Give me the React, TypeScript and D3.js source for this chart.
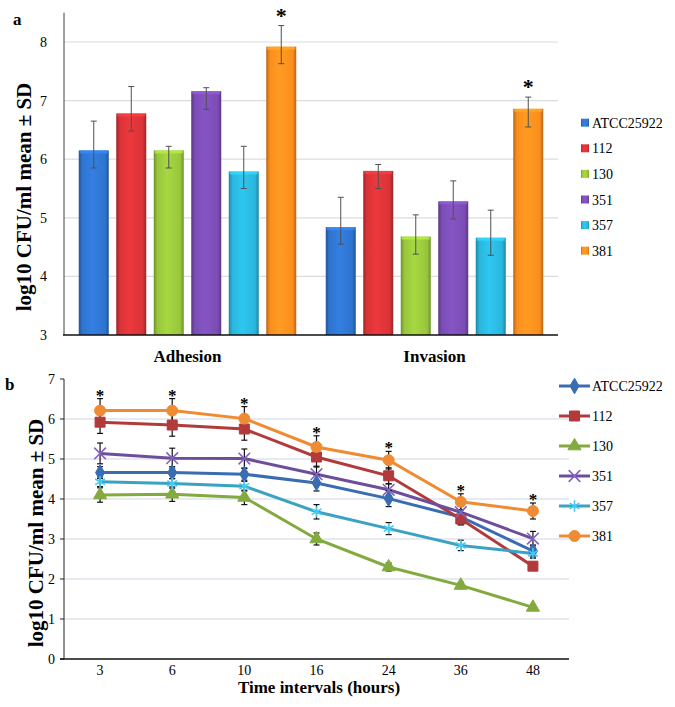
import React from "react";
import * as d3 from "d3";

// strains / legend entries
const strains = ["ATCC25922", "112", "130", "351", "357", "381"];
const barGroups = ["Adhesion", "Invasion"];

// panel a: bar means and error bar ends
const adhesionMean = [6.15, 6.78, 6.15, 7.16, 5.79, 7.92];
const adhesionHigh = [6.65, 7.24, 6.22, 7.22, 6.22, 8.28];
const adhesionLow = [5.85, 6.48, 5.85, 6.85, 5.5, 7.63];
const invasionMean = [4.84, 5.8, 4.68, 5.28, 4.66, 6.86];
const invasionHigh = [5.35, 5.91, 5.05, 5.63, 5.13, 7.06];
const invasionLow = [4.55, 5.5, 4.38, 4.98, 4.36, 6.55];
const barTicks = [3, 4, 5, 6, 7, 8];

// panel b: time course
const hours = ["3", "6", "10", "16", "24", "36", "48"];
const atccMean = [4.66, 4.66, 4.62, 4.4, 4.01, 3.55, 2.7];
const s112Mean = [5.92, 5.85, 5.75, 5.05, 4.58, 3.5, 2.32];
const s130Mean = [4.1, 4.12, 4.04, 3.0, 2.3, 1.84, 1.29];
const s351Mean = [5.14, 5.02, 5.01, 4.62, 4.23, 3.67, 3.01];
const s357Mean = [4.43, 4.39, 4.32, 3.68, 3.26, 2.84, 2.64];
const s381Mean = [6.21, 6.21, 6.01, 5.3, 4.97, 3.93, 3.7];
const atccSd = [0.15, 0.15, 0.15, 0.2, 0.2, 0.18, 0.15];
const s112Sd = [0.28, 0.28, 0.28, 0.25, 0.2, 0.15, 0.1];
const s130Sd = [0.18, 0.18, 0.18, 0.15, 0.1, 0.08, 0.06];
const s351Sd = [0.26, 0.25, 0.24, 0.2, 0.15, 0.15, 0.18];
const s357Sd = [0.12, 0.12, 0.12, 0.18, 0.15, 0.13, 0.12];
const s381Sd = [0.3, 0.3, 0.3, 0.28, 0.22, 0.2, 0.2];
const lineTicks = [0, 1, 2, 3, 4, 5, 6, 7];

const barColors = ["#2f74cf", "#d93337", "#98c63c", "#7b4db4", "#2ab6dc", "#fb8e1e"];
const lineColors = ["#3a6cb2", "#b23a3a", "#82aa3e", "#6c4e9c", "#3aa2c2", "#ef8b33"];

const lineSeries = [
  { mean: atccMean, sd: atccSd, shape: d3.symbolDiamond, size: 70, fill: true },
  { mean: s112Mean, sd: s112Sd, shape: d3.symbolSquare, size: 100, fill: true },
  { mean: s130Mean, sd: s130Sd, shape: d3.symbolTriangle, size: 75, fill: true },
  { mean: s351Mean, sd: s351Sd, shape: d3.symbolTimes, size: 90, fill: false },
  { mean: s357Mean, sd: s357Sd, shape: d3.symbolAsterisk, size: 90, fill: false },
  { mean: s381Mean, sd: s381Sd, shape: d3.symbolCircle, size: 95, fill: true },
];

const font = "'Liberation Serif', 'Times New Roman', serif";

export default function App() {
  // ---- panel a scales
  const ya = d3.scaleLinear().domain([3, 8.5]).range([335, 12.7]);
  const xGroup = d3.scaleBand().domain(barGroups).range([64, 558]);
  const xBar = d3
    .scaleBand()
    .domain(strains)
    .range([-112.5, 112.5])
    .paddingInner(0.2)
    .paddingOuter(0.1);
  const groups = [
    { name: "Adhesion", mean: adhesionMean, high: adhesionHigh, low: adhesionLow },
    { name: "Invasion", mean: invasionMean, high: invasionHigh, low: invasionLow },
  ];

  // ---- panel b scales
  const yb = d3.scaleLinear().domain([0, 7]).range([659, 379]);
  const xb = d3.scalePoint().domain(hours).range([64, 569]).padding(0.5);
  const line = d3
    .line<number>()
    .x((_, i) => xb(hours[i])!)
    .y((d) => yb(d));

  return (
    <div style={{ position: "absolute", left: 0, top: 0 }}>
      <svg width={675} height={707} style={{ fontFamily: font }}>
        <defs>
          {barColors.map((c, i) => {
            const base = d3.color(c)!;
            return (
              <linearGradient key={i} id={"bar" + i} x1="0" x2="1" y1="0" y2="0">
                <stop offset="0" stopColor={base.darker(0.9).formatHex()} />
                <stop offset="0.12" stopColor={c} />
                <stop offset="0.45" stopColor={base.brighter(0.25).formatHex()} />
                <stop offset="0.88" stopColor={c} />
                <stop offset="1" stopColor={base.darker(0.9).formatHex()} />
              </linearGradient>
            );
          })}
        </defs>
        <rect width={675} height={707} fill="#fff" />

        {/* ================= panel a ================= */}
        <text x={13} y={25} fontSize={17} fontWeight="bold">a</text>
        {barTicks.slice(1).map((t) => (
          <line key={t} x1={64} x2={558} y1={ya(t)} y2={ya(t)} stroke="#dcdcdc" strokeWidth={1.2} />
        ))}
        {barTicks.map((t) => (
          <text key={t} x={47} y={ya(t) + 5} fontSize={14} textAnchor="end">{t}</text>
        ))}
        <text
          transform={`translate(31,197) rotate(-90)`}
          fontSize={21}
          fontWeight="bold"
          textAnchor="middle"
        >
          log10 CFU/ml mean ± SD
        </text>

        {groups.map((g) => {
          const cx = xGroup(g.name)! + xGroup.bandwidth() / 2;
          return (
            <g key={g.name}>
              {strains.map((s, i) => {
                const x0 = cx + xBar(s)!;
                const w = xBar.bandwidth();
                const top = ya(g.mean[i]);
                const base = d3.color(barColors[i])!;
                return (
                  <g key={s}>
                    <rect x={x0} y={top} width={w} height={ya(3) - top} fill={`url(#bar${i})`} />
                    <rect
                      x={x0 + 1}
                      y={top}
                      width={w - 2}
                      height={3}
                      fill={base.brighter(0.5).formatHex()}
                      opacity={0.8}
                    />
                  </g>
                );
              })}
              {strains.map((s, i) => {
                const xc = cx + xBar(s)! + xBar.bandwidth() / 2;
                return (
                  <g key={s} stroke="#505050" strokeWidth={1}>
                    <line x1={xc} x2={xc} y1={ya(g.high[i])} y2={ya(g.low[i])} />
                    <line x1={xc - 3} x2={xc + 3} y1={ya(g.high[i])} y2={ya(g.high[i])} />
                    <line x1={xc - 3} x2={xc + 3} y1={ya(g.low[i])} y2={ya(g.low[i])} />
                  </g>
                );
              })}
              <text
                x={cx + xBar(strains[5])! + xBar.bandwidth() / 2}
                y={ya(g.high[5]) - 3}
                fontSize={22}
                fontWeight="bold"
                textAnchor="middle"
              >
                *
              </text>
              <text x={cx} y={362} fontSize={17} fontWeight="bold" textAnchor="middle">
                {g.name}
              </text>
            </g>
          );
        })}
        <line x1={64} x2={64} y1={12.7} y2={335} stroke="#404040" strokeWidth={1} />
        <line x1={63} x2={558} y1={335} y2={335} stroke="#111" strokeWidth={1.6} />

        {strains.map((s, i) => {
          const y = 122.7 + i * 25.6;
          return (
            <g key={s}>
              <rect x={581} y={y - 4} width={8} height={8} fill={`url(#bar${i})`} />
              <text x={592} y={y + 5} fontSize={14}>{s}</text>
            </g>
          );
        })}

        {/* ================= panel b ================= */}
        <text x={5} y={390} fontSize={17} fontWeight="bold">b</text>
        {lineTicks.slice(1, 7).map((t) => (
          <line key={t} x1={64} x2={569} y1={yb(t)} y2={yb(t)} stroke="#cfd8e4" strokeWidth={1.2} />
        ))}
        {lineTicks.map((t) => (
          <g key={t}>
            <line x1={60} x2={64} y1={yb(t)} y2={yb(t)} stroke="#222" />
            <text x={55} y={yb(t) + 5} fontSize={14} textAnchor="end">{t}</text>
          </g>
        ))}
        <line x1={64} x2={64} y1={379} y2={659} stroke="#222" strokeWidth={1} />
        <line x1={60} x2={569} y1={659} y2={659} stroke="#111" strokeWidth={1.4} />
        {hours.map((h) => (
          <text key={h} x={xb(h)} y={675} fontSize={14} textAnchor="middle">{h}</text>
        ))}
        <text x={319} y={693} fontSize={17} fontWeight="bold" textAnchor="middle">
          Time intervals (hours)
        </text>
        <text
          transform={`translate(43,533) rotate(-90)`}
          fontSize={21}
          fontWeight="bold"
          textAnchor="middle"
        >
          log10 CFU/ml mean ± SD
        </text>

        {lineSeries.map((s, k) => (
          <path key={k} d={line(s.mean)!} fill="none" stroke={lineColors[k]} strokeWidth={3} />
        ))}
        {lineSeries.map((s, k) => (
          <g key={k} stroke="#111" strokeWidth={1.2}>
            {s.mean.map((m, i) => {
              const x = xb(hours[i])!;
              const hi = yb(m + s.sd[i]);
              const lo = yb(m - s.sd[i]);
              return (
                <g key={i}>
                  <line x1={x} x2={x} y1={hi} y2={lo} />
                  <line x1={x - 3} x2={x + 3} y1={hi} y2={hi} />
                  <line x1={x - 3} x2={x + 3} y1={lo} y2={lo} />
                </g>
              );
            })}
          </g>
        ))}
        {lineSeries.map((s, k) => {
          const sym = d3.symbol(s.shape, s.size)()!;
          const c = lineColors[k];
          const lite = d3.color(c)!.brighter(0.6).formatHex();
          return (
            <g key={k}>
              {s.mean.map((m, i) => (
                <path
                  key={i}
                  transform={`translate(${xb(hours[i])},${yb(m)})`}
                  d={sym}
                  fill={s.fill ? c : "none"}
                  stroke={s.fill ? c : lite}
                  strokeWidth={s.fill ? 1 : 1.6}
                />
              ))}
            </g>
          );
        })}
        {hours.map((h, i) => (
          <text
            key={h}
            x={xb(h)}
            y={yb(s381Mean[i] + s381Sd[i]) + 2}
            fontSize={17}
            fontWeight="bold"
            textAnchor="middle"
          >
            *
          </text>
        ))}

        {strains.map((s, k) => {
          const y = 386 + k * 30;
          const ls = lineSeries[k];
          const sym = d3.symbol(ls.shape, ls.size)()!;
          const c = lineColors[k];
          const lite = d3.color(c)!.brighter(0.6).formatHex();
          return (
            <g key={s}>
              <line x1={559} x2={590} y1={y} y2={y} stroke={c} strokeWidth={3} />
              <path
                transform={`translate(574.5,${y})`}
                d={sym}
                fill={ls.fill ? c : "none"}
                stroke={ls.fill ? c : lite}
                strokeWidth={ls.fill ? 1 : 1.6}
              />
              <text x={592} y={y + 5} fontSize={14}>{s}</text>
            </g>
          );
        })}
      </svg>
    </div>
  );
}
